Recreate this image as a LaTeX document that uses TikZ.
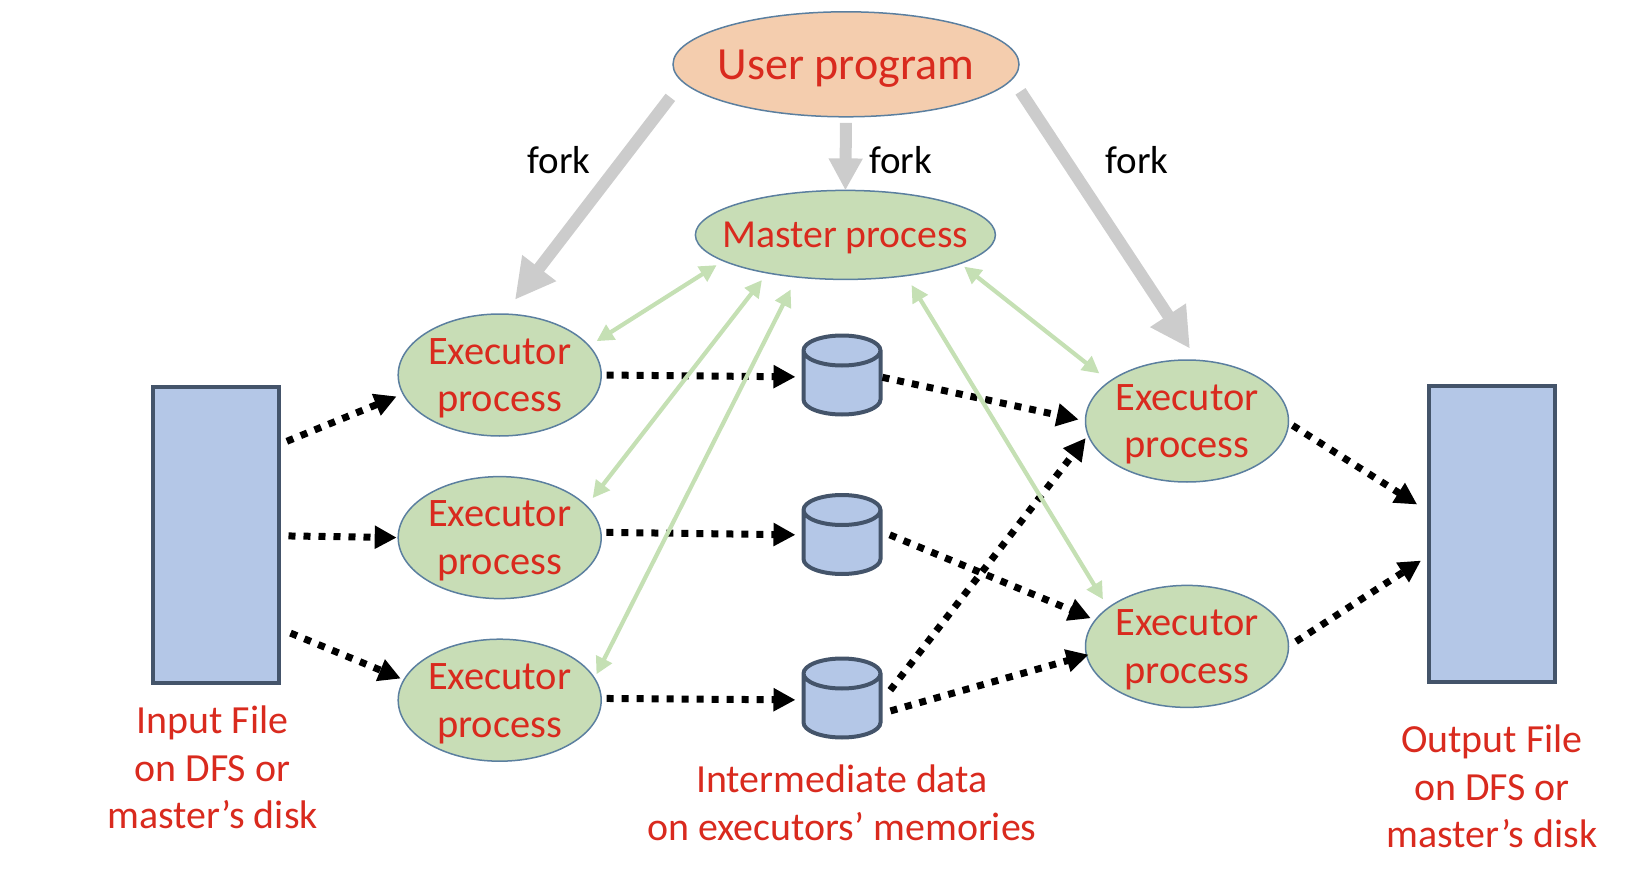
\documentclass[tikz,border=0pt]{standalone}
\usepackage{fontspec}
\setmainfont{Carlito}
\usepackage{xcolor}
\usetikzlibrary{positioning,shapes.geometric,arrows.meta}
\definecolor{SignalRed}{HTML}{D92A1E}
\definecolor{PeachFill}{HTML}{F4CDAE}
\definecolor{SageFill}{HTML}{C8DDB6}
\definecolor{SageLine}{HTML}{C5E0B4}
\definecolor{SteelFill}{HTML}{B4C7E7}
\definecolor{SlateLine}{HTML}{44546A}
\definecolor{RimBlue}{HTML}{5B7F9F}
\definecolor{ForkGrey}{HTML}{CCCCCC}
\tikzset{
  proc/.style={ellipse, draw=RimBlue, line width=0.15mm, fill=SageFill, text=SignalRed, inner xsep=-0.6cm, inner ysep=-0.4cm, outer sep=0pt, align=center, text depth=0pt},
  filebox/.style={rectangle, draw=SlateLine, line width=0.4mm, fill=SteelFill, minimum width=1.26cm, minimum height=2.96cm, inner sep=0pt, outer sep=0pt},
  store/.style={cylinder, shape border rotate=90, aspect=1, anchor=shape center, draw=SlateLine, line width=0.4mm, fill=SteelFill, minimum width=0.77cm, minimum height=0.79cm, inner sep=0.15cm, outer sep=0pt},
  caption/.style={text=SignalRed, align=center, font=\fontsize{11.35}{13.5}\selectfont},
  forklabel/.style={font=\fontsize{11.1}{13}\selectfont},
  forkline/.style={draw=ForkGrey, line width=0.12cm, -{Triangle[length=#1, width=#1]}},
  dataflow/.style={draw=black, line width=0.07cm, dash pattern=on 0.07cm off 0.08cm, -{Triangle[length=0.22cm, width=0.22cm]}},
  ctrlflow/.style={draw=SageLine, line width=0.042cm, {Triangle[length=0.17cm, width=0.17cm]}-{Triangle[length=0.17cm, width=0.17cm]}}
}
\begin{document}
\begin{tikzpicture}
  \useasboundingbox (0,0) rectangle (16.5,-8.92);
  % processes
  \node[proc, fill=PeachFill, minimum width=3.46cm, minimum height=1.05cm, font=\fontsize{13.1}{16}\selectfont] (user) at (8.46,-0.643) {User program};
  \node[proc, minimum width=3.0cm, minimum height=0.89cm, font=\fontsize{11.3}{14}\selectfont] (master) at (8.454,-2.349) {Master process};
  \foreach \name/\x/\y in {execA/4.997/-3.75, execB/4.997/-5.376, execC/4.997/-7.002, execD/11.87/-4.21, execE/11.87/-6.464}
    \node[proc, minimum width=2.03cm, minimum height=1.22cm, font=\fontsize{11.5}{13.6}\selectfont] (\name) at (\x,\y) {Executor\\process};
  % files and intermediate data
  \node[filebox] (input) at (2.155,-5.347) {};
  \node[filebox] (output) at (14.92,-5.337) {};
  \node[store] (dataA) at (8.42,-3.75) {};
  \node[store] (dataB) at (8.42,-5.345) {};
  \node[store] (dataC) at (8.42,-6.98) {};
  % labels
  \node[caption, below=0.11cm of input, xshift=-0.03cm] (inputlabel) {Input File\\on DFS or\\master’s disk};
  \node[caption, below=0.31cm of output] (outputlabel) {Output File\\on DFS or\\master’s disk};
  \node[caption, below=0.15cm of dataC] (datalabel) {Intermediate data\\on executors’ memories};
  \node[forklabel] (forkA) at (5.59,-1.60) {fork};
  \node[forklabel] (forkB) at (9.005,-1.60) {fork};
  \node[forklabel] (forkC) at (11.37,-1.60) {fork};
  % fork arrows
  \draw[forkline=0.4cm, shorten <=0.2cm, shorten >=0.18cm] (user.186.3) -- (execA.86);
  \draw[forkline=0.32cm, shorten <=0.06cm] (user.south) -- (master.north);
  \draw[forkline=0.4cm, shorten <=0.15cm, shorten >=0.14cm] (user.-5.7) -- (execD.80.9);
  % data flow
  \draw[dataflow, shorten <=0.09cm, shorten >=0.07cm] (input.55.6) -- (execA.191.3);
  \draw[dataflow, shorten <=0.10cm, shorten >=0.015cm] (input.-1.8) -- (execB.180);
  \draw[dataflow, shorten <=0.13cm, shorten >=0.035cm] (input.-56) -- (execC.168.1);
  \draw[dataflow, shorten <=0.055cm, shorten >=0.08cm] (execA.east) -- (dataA.162);
  \draw[dataflow, shorten <=0.055cm, shorten >=0.08cm] (execB.3.5) -- (dataB.160);
  \draw[dataflow, shorten <=0.055cm, shorten >=0.08cm] (execC.1.1) -- (dataC.162);
  \draw[dataflow, shorten <=0.02cm, shorten >=0.07cm] (dataA.18) -- (execD.west);
  \draw[dataflow, shorten <=0.10cm, shorten >=0.05cm] (dataB.25) -- (execE.164.7);
  \draw[dataflow, shorten <=0.16cm, shorten >=0.04cm] (dataC.14) -- (execD.188.8);
  \draw[dataflow, shorten <=0.104cm, shorten >=-0.02cm] (dataC.-2) -- (execE.185.8);
  \draw[dataflow, shorten <=0.05cm, shorten >=0.14cm] (execD.-1.2) -- (output.161.5);
  \draw[dataflow, shorten <=0.09cm, shorten >=0.095cm] (execE.east) -- (output.199.6);
  % control flow
  \draw[ctrlflow, shorten <=0.08cm, shorten >=0.09cm] (master.192.2) -- (execA.18.1);
  \draw[ctrlflow, shorten <=0.09cm, shorten >=0.10cm] (master.206.2) -- (execB.20.3);
  \draw[ctrlflow, shorten <=0.14cm, shorten >=0.045cm] (master.221.3) -- (execC.13.7);
  \draw[ctrlflow, shorten <=0.11cm, shorten >=0.10cm] (master.-34.3) -- (execE.154);
  \draw[ctrlflow, shorten <=0.05cm, shorten >=0.13cm] (master.-14.4) -- (execD.153.4);
\end{tikzpicture}
\end{document}
